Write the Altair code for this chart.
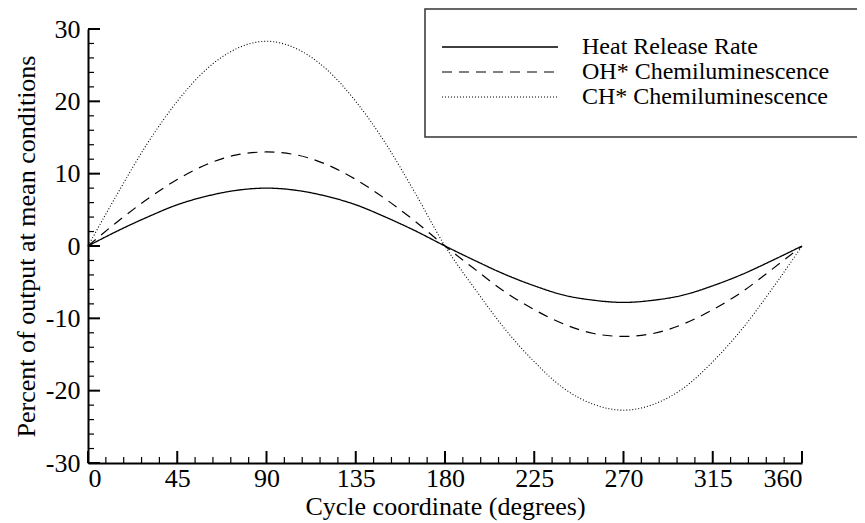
import altair as alt
import pandas as pd

# ---------------- data ----------------
angles = list(range(0, 361, 15))
series_names = ["Heat Release Rate", "OH* Chemiluminescence", "CH* Chemiluminescence"]
hrr = [0.0, 2.1, 4.0, 5.7, 6.9, 7.7, 8.0, 7.7, 6.9, 5.7, 4.0, 2.1, 0.0,
       -2.0, -3.9, -5.5, -6.8, -7.5, -7.8, -7.5, -6.8, -5.5, -3.9, -2.0, 0.0]
oh = [0.0, 3.4, 6.5, 9.2, 11.3, 12.6, 13.0, 12.6, 11.3, 9.2, 6.5, 3.4, 0.0,
      -3.2, -6.3, -8.8, -10.8, -12.1, -12.5, -12.1, -10.8, -8.8, -6.3, -3.2, 0.0]
ch = [0.0, 7.3, 14.2, 20.0, 24.5, 27.3, 28.3, 27.3, 24.5, 20.0, 14.2, 7.3, 0.0,
      -5.9, -11.4, -16.0, -19.7, -21.9, -22.7, -21.9, -19.7, -16.0, -11.4, -5.9, 0.0]

x_major = list(range(0, 361, 45))
x_minor = [v for v in range(0, 361, 9) if v % 45 != 0]
y_major = list(range(-30, 31, 10))
y_minor = [v for v in range(-30, 31, 2) if v % 10 != 0]

# ---------------- styling ----------------
W, H = 714, 434
FONT = "Liberation Serif"
FS = 26
LEG_FS = 24
X_DOM, Y_DOM = [0, 360], [-30, 30]
dashes = [[1, 0], [10, 7], [1, 2]]
widths = [1.3, 1.1, 1.0]

rows = []
for name, vals in zip(series_names, [hrr, oh, ch]):
    for a, v in zip(angles, vals):
        rows.append({"angle": a, "value": v, "series": name})
df = pd.DataFrame(rows)

xs = alt.Scale(domain=X_DOM, nice=False, zero=False)
ys = alt.Scale(domain=Y_DOM, nice=False, zero=False)
x_axis = alt.Axis(values=x_major, title="Cycle coordinate (degrees)",
                  labelExpr="'' + datum.value", labelPadding=2, titlePadding=2)
y_axis = alt.Axis(values=y_major, title="Percent of output at mean conditions",
                  labelExpr="'' + datum.value", labelPadding=8, titlePadding=6)

lines = alt.Chart(df).mark_line(interpolate="monotone", color="black").encode(
    x=alt.X("angle:Q", scale=xs, axis=x_axis),
    y=alt.Y("value:Q", scale=ys, axis=y_axis),
    strokeDash=alt.StrokeDash("series:N", scale=alt.Scale(domain=series_names, range=dashes), legend=None),
    strokeWidth=alt.StrokeWidth("series:N", scale=alt.Scale(domain=series_names, range=widths), legend=None),
)

# inward ticks, in data units
xu = (X_DOM[1] - X_DOM[0]) / W
yu = (Y_DOM[1] - Y_DOM[0]) / H
MAJ, MIN = 12, 6

def xtick_layer(vals, length, sw):
    d = pd.DataFrame({"v": vals, "a": Y_DOM[0], "b": Y_DOM[0] + length * yu})
    return alt.Chart(d).mark_rule(color="black", strokeWidth=sw).encode(
        x=alt.X("v:Q", scale=xs, axis=x_axis),
        y=alt.Y("a:Q", scale=ys, axis=y_axis), y2="b:Q")

def ytick_layer(vals, length, sw):
    d = pd.DataFrame({"v": vals, "a": X_DOM[0], "b": X_DOM[0] + length * xu})
    return alt.Chart(d).mark_rule(color="black", strokeWidth=sw).encode(
        y=alt.Y("v:Q", scale=ys, axis=y_axis),
        x=alt.X("a:Q", scale=xs, axis=x_axis), x2="b:Q")

ticks = [xtick_layer(x_major, MAJ, 2), xtick_layer(x_minor, MIN, 1.2),
         ytick_layer(y_major, MAJ, 2), ytick_layer(y_minor, MIN, 1.2)]

# legend (drawn manually)
legend_df = pd.DataFrame({"series": series_names})
frame = alt.Chart(pd.DataFrame({"k": [0]})).mark_rect(
    fill="white", stroke="#333", strokeWidth=1.5).encode(
    x=alt.value(337), x2=alt.value(774), y=alt.value(-20), y2=alt.value(108))

leg_layers = [frame]
for i, name in enumerate(series_names):
    yy = 18 + 25 * i
    sub = alt.Chart(legend_df).transform_filter(alt.datum.series == name)
    leg_layers.append(sub.mark_rule(color="black", strokeWidth=widths[i], strokeDash=dashes[i]).encode(
        x=alt.value(354), x2=alt.value(470), y=alt.value(yy)))
    leg_layers.append(sub.mark_text(align="left", baseline="middle", font=FONT,
                                    fontSize=LEG_FS, color="black").encode(
        x=alt.value(494), y=alt.value(yy), text="series:N"))

chart = alt.layer(lines, *ticks, *leg_layers).properties(
    width=W, height=H,
    autosize=alt.AutoSizeParams(type="none"),
    padding={"left": 80, "top": 21, "right": 55, "bottom": 60},
).configure_view(stroke=None).configure_axis(
    domainColor="black", domainWidth=2, ticks=False, grid=False,
    labelFont=FONT, labelFontSize=FS, labelColor="black",
    titleFont=FONT, titleFontSize=FS, titleFontWeight="normal", titleColor="black",
)

chart.save("out.html", embed_options={"renderer": "svg", "actions": False})
